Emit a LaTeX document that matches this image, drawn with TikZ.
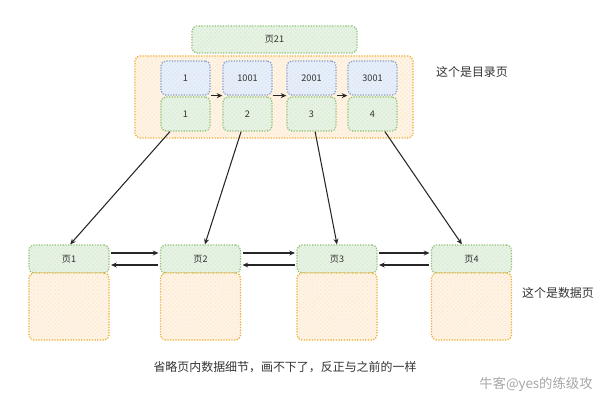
\documentclass[tikz,border=0pt]{standalone}
\usepackage{fontspec}
\setmainfont{Noto Sans CJK SC}
\usetikzlibrary{arrows.meta,patterns}
\definecolor{greenfill}{HTML}{E6F2E4}
\definecolor{greenline}{HTML}{8BBF6E}
\definecolor{bluefill}{HTML}{E6EEFA}
\definecolor{blueline}{HTML}{7D9CCB}
\definecolor{orangefill}{HTML}{FFF3E6}
\definecolor{orangeline}{HTML}{EDAA2A}
\definecolor{textgray}{HTML}{333333}
\tikzset{
  sketch/.style={densely dotted,line width=0.9pt,rounded corners=3.5pt,inner sep=0pt,text=textgray},
  greenbox/.style={sketch,draw=greenline,fill=greenfill,postaction={pattern=north east lines,pattern color=greenline!35}},
  bluebox/.style={sketch,draw=blueline,fill=bluefill,postaction={pattern=north east lines,pattern color=blueline!30}},
  orangebox/.style={sketch,draw=orangeline,fill=orangefill,postaction={pattern=north east lines,pattern color=orangeline!30}},
  cell/.style={minimum width=1.225cm,minimum height=0.85cm},
  page/.style={minimum width=2cm,minimum height=0.7cm},
  link/.style={-{Stealth[length=4pt,width=3.5pt]},line width=0.75pt,black!85},
  note/.style={font=\fontsize{8.5}{10}\selectfont,text=textgray}
}
\begin{document}
\begin{tikzpicture}[x=0.025cm,y=-0.025cm,every node/.style={font=\fontsize{6.5}{8}\selectfont}]
\useasboundingbox (0,0) rectangle (600,400);
% root page
\node[greenbox,minimum width=4.125cm,minimum height=0.675cm] (root) at (274.5,39.5) {页21};
% directory page
\node[orangebox,minimum width=6.95cm,minimum height=2.05cm] (dir) at (274,97) {};
\foreach \i/\x/\k in {1/185.5/1, 2/247.5/1001, 3/311.5/2001, 4/372.5/3001} {
  \node[bluebox,cell] (b\i) at (\x,78) {\k};
  \node[greenbox,cell] (g\i) at (\x,114) {\i};
}
\foreach \i/\j in {1/2,2/3,3/4}
  \draw[link] (b\i.south east) -- (b\j.south west);
\node[note] (dirnote) at (472,72) {这个是目录页};
% data pages
\foreach \i/\x in {1/69,2/200.5,3/337,4/471.5} {
  \node[greenbox,page] (p\i) at (\x,259) {页\i};
  \node[orangebox,minimum width=2cm,minimum height=1.675cm] (d\i) at (\x,306.5) {};
}
\foreach \i/\j in {1/2,2/3,3/4} {
  \draw[link,shorten <=1pt,shorten >=1pt] ([yshift=0.15cm]p\i.east) -- ([yshift=0.15cm]p\j.west);
  \draw[link,shorten <=1pt,shorten >=1pt] ([yshift=-0.15cm]p\j.west) -- ([yshift=-0.15cm]p\i.east);
}
\node[note] (datanote) at (558,293) {这个是数据页};
% directory entries to data pages
\draw[link] ([xshift=-0.39cm]g1.south) -- ([xshift=0.03cm]p1.north);
\draw[link] ([xshift=-0.16cm]g2.south) -- ([xshift=0.11cm]p2.north);
\draw[link] ([xshift=0.09cm]g3.south) -- (p3.north);
\draw[link] ([xshift=0.31cm]g4.south) -- ([xshift=-0.24cm]p4.north);
\node[note] (omit) at (285,367) {省略页内数据细节，画不下了，反正与之前的一样};
\node[anchor=west,inner sep=0pt,font=\fontsize{9.5}{11}\selectfont,text=black!35] (mark) at (479,384) {牛客@yes的练级攻};
\end{tikzpicture}
\end{document}
